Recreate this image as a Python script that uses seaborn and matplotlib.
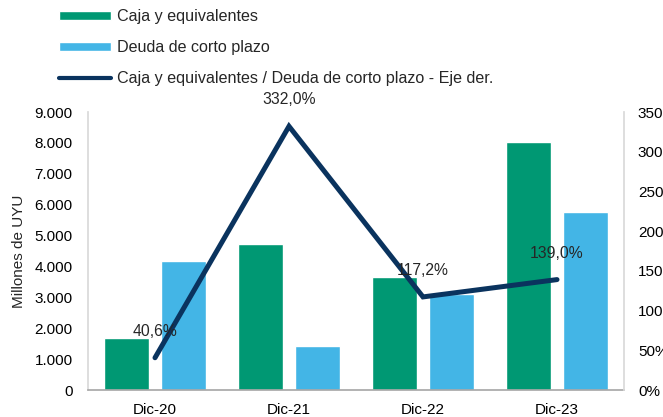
import numpy as np
import pandas as pd
import matplotlib
matplotlib.use("Agg")
import matplotlib.pyplot as plt
import seaborn as sns
from matplotlib.patches import Patch
from matplotlib.lines import Line2D
from matplotlib.ticker import FuncFormatter

categories = ["Dic-20", "Dic-21", "Dic-22", "Dic-23"]
caja = [1680, 4740, 3650, 8030]
deuda = [4170, 1420, 3110, 5770]
ratio = [40.6, 332.0, 117.2, 139.0]

serie_caja = "Caja y equivalentes"
serie_deuda = "Deuda de corto plazo"
serie_ratio = "Caja y equivalentes / Deuda de corto plazo - Eje der."

green = "#009873"
blue = "#43B5E6"
navy = "#0A335E"

sns.set_theme(style="white")
plt.rcParams["font.family"] = ["Liberation Sans", "DejaVu Sans"]

df = pd.DataFrame({
    "cat": categories * 2,
    "valor": caja + deuda,
    "serie": [serie_caja] * 4 + [serie_deuda] * 4,
})

fig = plt.figure(figsize=(6.63, 4.17), dpi=100)
ax = fig.add_axes([88 / 663, 27 / 417, 536 / 663, 278 / 417])

sns.barplot(data=df, x="cat", y="valor", hue="serie", order=categories,
            palette=[green, blue], width=0.84, gap=0.2, ax=ax, legend=False,
            saturation=1)
ax.set_xlim(-0.5, 3.5)
ax.set_ylim(0, 9000)
ax.set_yticks(np.arange(0, 9001, 1000))
ax.yaxis.set_major_formatter(FuncFormatter(lambda v, p: f"{int(v):,}".replace(",", ".")))
ax.set_xlabel("")
ax.set_ylabel("Millones de UYU", fontsize=11)
ax.yaxis.set_label_coords(-0.115, 0.5)
ax.tick_params(axis="both", length=0, labelsize=11, colors="black")
ax.tick_params(axis="x", pad=9)
ax.tick_params(axis="y", pad=11)
ax.spines["top"].set_visible(False)
ax.spines["right"].set_visible(False)
ax.spines["left"].set_color("#D9D9D9")
ax.spines["bottom"].set_color("#A6A6A6")
ax.spines["bottom"].set_linewidth(1.2)

ax2 = ax.twinx()
sns.lineplot(x=np.arange(len(categories)), y=ratio, ax=ax2, color=navy,
             linewidth=3.6, solid_capstyle="round", solid_joinstyle="miter")
ax2.set_ylim(0, 350)
ax2.set_yticks(np.arange(0, 351, 50))
ax2.yaxis.set_major_formatter(FuncFormatter(lambda v, p: f"{int(v)}%"))
ax2.tick_params(axis="y", length=0, labelsize=11, pad=10, colors="black")
ax2.set_ylabel("")
for s in ["top", "left", "bottom"]:
    ax2.spines[s].set_visible(False)
ax2.spines["right"].set_color("#D9D9D9")

for i, v in enumerate(ratio):
    ax2.annotate(f"{v:.1f}%".replace(".", ","), (i, v), xytext=(0, 19),
                 textcoords="offset points", ha="center", va="center", fontsize=11.3)

handles = [
    Patch(facecolor=green, label=serie_caja),
    Patch(facecolor=blue, label=serie_deuda),
    Line2D([0], [0], color=navy, lw=3.0, solid_capstyle="round", label=serie_ratio),
]
fig.legend(handles=handles, loc="upper left", bbox_to_anchor=(59 / 663, 1 - 9 / 417),
           frameon=False, fontsize=11.6, borderpad=0, borderaxespad=0,
           handlelength=3.25, handleheight=0.5, handletextpad=0.38, labelspacing=1.0)

fig.savefig("out.png", dpi=100)
